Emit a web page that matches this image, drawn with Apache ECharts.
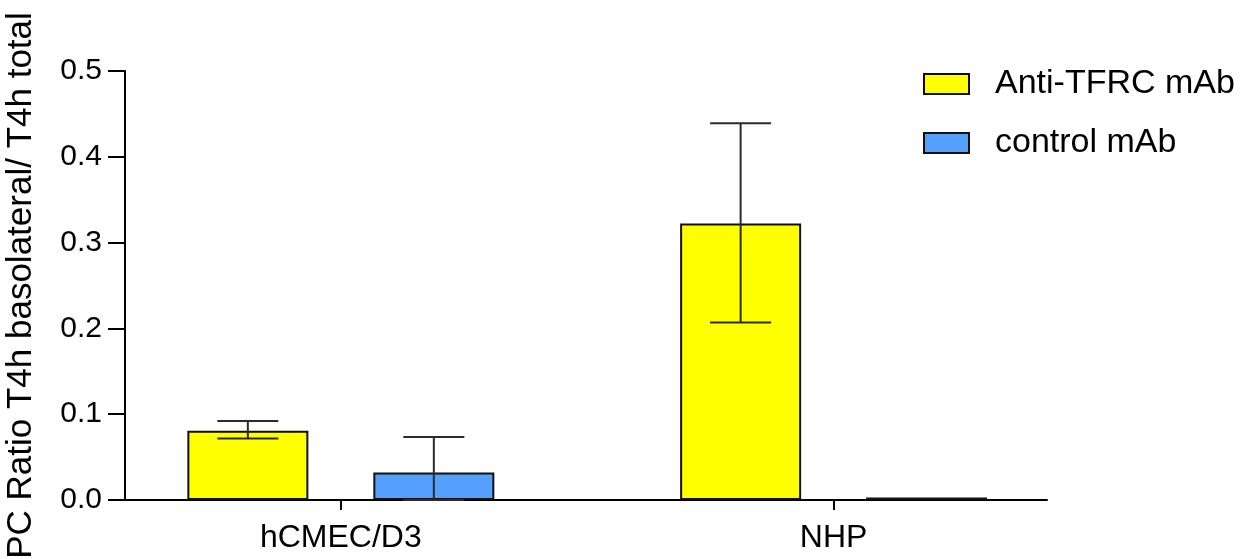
<!DOCTYPE html>
<html>
<head>
<meta charset="utf-8">
<script src="https://cdn.jsdelivr.net/npm/echarts@6/dist/echarts.min.js"></script>
<style>
html,body{margin:0;padding:0;background:#fff;}
#chart{width:1250px;height:559px;}
</style>
</head>
<body>
<div id="chart"></div>
<script>
const categories = ['hCMEC/D3', 'NHP'];
const seriesNames = ['Anti-TFRC mAb', 'control mAb'];
const antiTfrc = [0.0806, 0.3224];
const antiTfrcLow = [0.0716, 0.207];
const antiTfrcHigh = [0.0922, 0.4391];
const control = [0.0321, 0.003];
const controlLow = [0.0, 0.003];
const controlHigh = [0.0733, 0.003];
const yTickValues = [0, 0.1, 0.2, 0.3, 0.4, 0.5];
const yAxisTitle = 'PC Ratio T4h basolateral/ T4h total';

const FONT = 'Liberation Sans, Arial, sans-serif';
const barWidth = 121;
const gapPx = 65;
const offsetPx = (barWidth + gapPx) / 2;
const capHalf = 30.5;

const catIdx = categories.map((c, i) => i);

function barData(vals) { return vals.map((v, i) => [catIdx[i], v]); }
function errData(lo, hi) { return lo.map((l, i) => [catIdx[i], l, hi[i]]); }

function errRender(offset) {
  return function (params, api) {
    const x = api.value(0), lo = api.value(1), hi = api.value(2);
    if (hi - lo <= 0) return null;
    const pHi = api.coord([x, hi]);
    const pLo = api.coord([x, lo]);
    const cx = pHi[0] + offset;
    const style = { stroke: '#2b2b2b', lineWidth: 2 };
    return {
      type: 'group',
      children: [
        { type: 'line', shape: { x1: cx, y1: pHi[1], x2: cx, y2: pLo[1] }, style },
        { type: 'line', shape: { x1: cx - capHalf, y1: pHi[1], x2: cx + capHalf, y2: pHi[1] }, style },
        { type: 'line', shape: { x1: cx - capHalf, y1: pLo[1], x2: cx + capHalf, y2: pLo[1] }, style }
      ]
    };
  };
}

const chart = echarts.init(document.getElementById('chart'), null, { renderer: 'canvas' });
chart.setOption({
  backgroundColor: '#ffffff',
  animation: false,
  textStyle: { fontFamily: FONT },
  grid: { left: 125, right: 203, top: 71, bottom: 59, containLabel: false, outerBoundsMode: 'none' },
  legend: {
    orient: 'vertical',
    left: 923,
    top: 67,
    padding: 0,
    itemWidth: 45,
    itemHeight: 20,
    itemGap: 25,
    icon: 'rect',
    data: seriesNames,
    textStyle: { fontFamily: FONT, fontSize: 34, color: '#000', padding: [0, 0, 0, 21] }
  },
  xAxis: {
    type: 'value',
    min: -0.438,
    max: 1.433,
    splitLine: { show: false },
    axisLine: { show: true, onZero: false, lineStyle: { color: '#000', width: 2 } },
    axisTick: { show: true, customValues: catIdx, length: 10, inside: false, lineStyle: { color: '#000', width: 2 } },
    axisLabel: {
      customValues: catIdx,
      formatter: v => categories[Math.round(v)] || '',
      fontFamily: FONT, fontSize: 32, color: '#000', margin: 22
    }
  },
  yAxis: {
    type: 'value',
    min: 0,
    max: 0.5,
    interval: 0.1,
    name: yAxisTitle,
    nameLocation: 'middle',
    nameRotate: 90,
    nameGap: 86,
    nameTextStyle: { fontFamily: FONT, fontSize: 35, color: '#000' },
    splitLine: { show: false },
    axisLine: { show: true, onZero: false, lineStyle: { color: '#000', width: 2 } },
    axisTick: { show: true, length: 17, lineStyle: { color: '#000', width: 2 } },
    axisLabel: {
      formatter: v => v.toFixed(1),
      fontFamily: FONT, fontSize: 30, color: '#000', margin: 23
    }
  },
  series: [
    {
      name: seriesNames[0], type: 'bar', data: barData(antiTfrc),
      barWidth: barWidth, barGap: (gapPx / barWidth * 100).toFixed(1) + '%',
      itemStyle: { color: '#FFFF00', borderColor: '#111', borderWidth: 2 }
    },
    {
      name: seriesNames[1], type: 'bar', data: barData(control),
      barWidth: barWidth, barGap: (gapPx / barWidth * 100).toFixed(1) + '%',
      itemStyle: { color: '#559FFF', borderColor: '#111', borderWidth: 2 }
    },
    {
      type: 'custom', name: 'err0', renderItem: errRender(-offsetPx),
      data: errData(antiTfrcLow, antiTfrcHigh), z: 5, encode: { x: 0, y: [1, 2] }
    },
    {
      type: 'custom', name: 'err1', renderItem: errRender(offsetPx),
      data: errData(controlLow, controlHigh), z: 5, encode: { x: 0, y: [1, 2] }
    }
  ]
});
</script>
</body>
</html>
